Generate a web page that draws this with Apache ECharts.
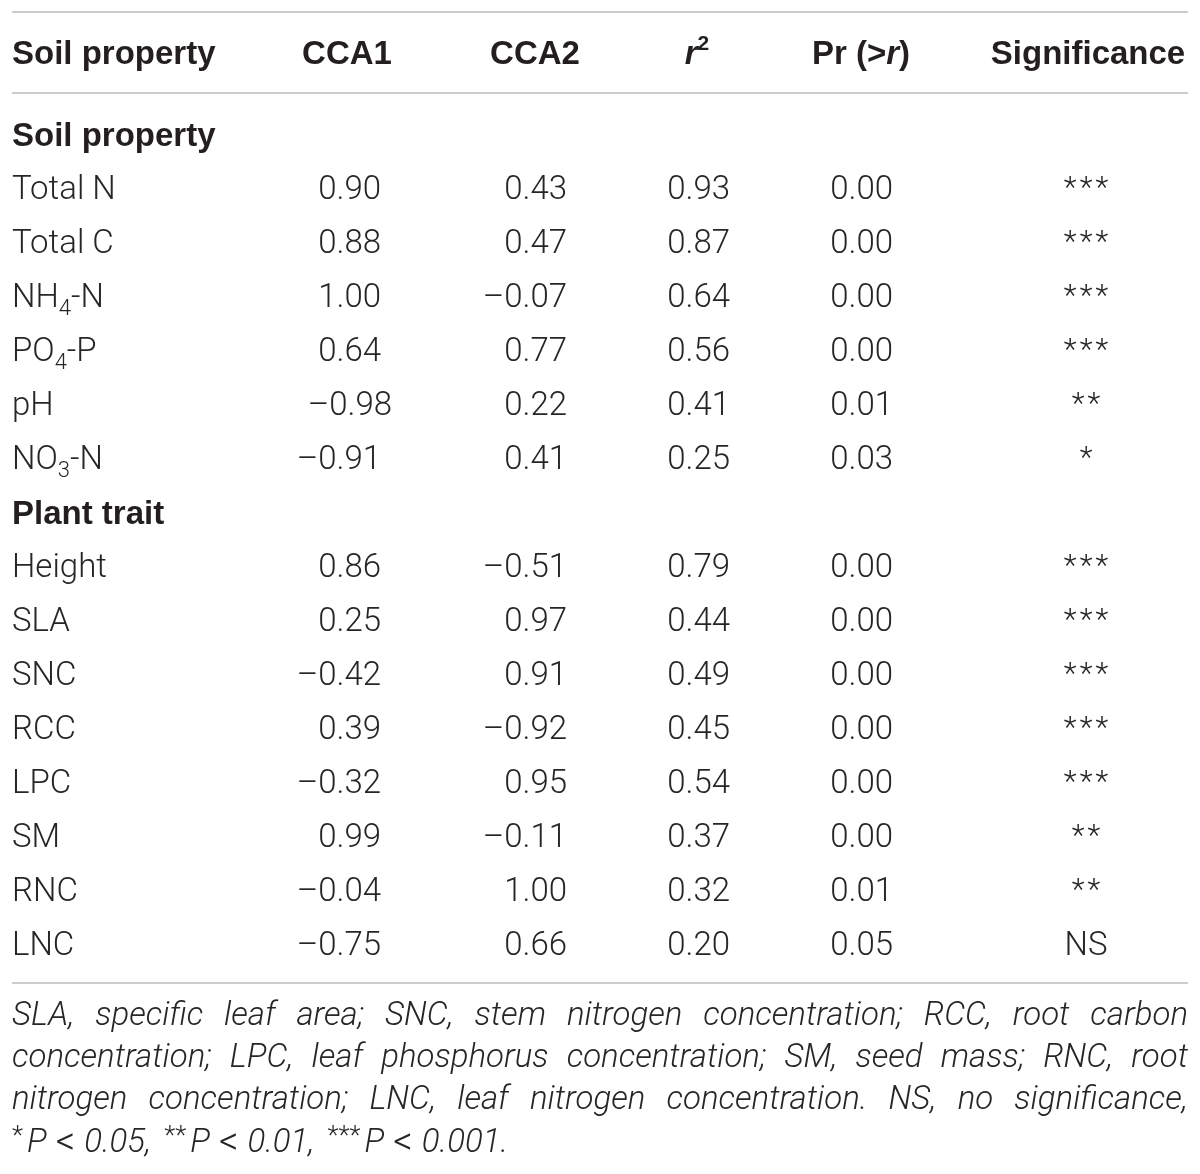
<!DOCTYPE html>
<html>
<head>
<meta charset="utf-8">
<title>CCA fit of soil properties and plant traits</title>
<script src="https://cdn.jsdelivr.net/npm/echarts@6/dist/echarts.min.js"></script>
<style>
  html, body { margin: 0; padding: 0; background: #fff; }
  #main { width: 1200px; height: 1174px; }
</style>
</head>
<body>
<div id="main"></div>
<script>
const columnHeaders = ['Soil property', 'CCA1', 'CCA2', 'r2', 'Pr (>r)', 'Significance'];
const groupTitles = ['Soil property', 'Plant trait'];

const soilNames = ['Total N', 'Total C', 'NH4-N', 'PO4-P', 'pH', 'NO3-N'];
const soilCCA1 = [0.90, 0.88, 1.00, 0.64, -0.98, -0.91];
const soilCCA2 = [0.43, 0.47, -0.07, 0.77, 0.22, 0.41];
const soilR2 = [0.93, 0.87, 0.64, 0.56, 0.41, 0.25];
const soilPr = [0.00, 0.00, 0.00, 0.00, 0.01, 0.03];
const soilSig = ['***', '***', '***', '***', '**', '*'];

const traitNames = ['Height', 'SLA', 'SNC', 'RCC', 'LPC', 'SM', 'RNC', 'LNC'];
const traitCCA1 = [0.86, 0.25, -0.42, 0.39, -0.32, 0.99, -0.04, -0.75];
const traitCCA2 = [-0.51, 0.97, 0.91, -0.92, 0.95, -0.11, 1.00, 0.66];
const traitR2 = [0.79, 0.44, 0.49, 0.45, 0.54, 0.37, 0.32, 0.20];
const traitPr = [0.00, 0.00, 0.00, 0.00, 0.00, 0.00, 0.01, 0.05];
const traitSig = ['***', '***', '***', '***', '***', '**', '**', 'NS'];

const footnoteLines = [
  'SLA, specific leaf area; SNC, stem nitrogen concentration; RCC, root carbon',
  'concentration; LPC, leaf phosphorus concentration; SM, seed mass; RNC, root',
  'nitrogen concentration; LNC, leaf nitrogen concentration. NS, no significance,'
];
const footnoteStars = ['*', '**', '***'];
const footnotePValues = ['0.05,', '0.01,', '0.001.'];

// layout
const LEFT = 12, RIGHT = 1188;
const headerX = [12, 347, 535, 697, 861, 1088];
const valueRight = [381, 567, 730, 893];
const sigCenter = 1086;
const cca1Shift = { pH: 11 };   // the pH value sits a little right in the original
const ruleY = [12, 93, 983];
const headerY = 55;
const footY = [1017, 1059, 1101, 1144];

const BODY = 'Roboto';
const HEAD = 'Liberation Sans';
const INK = '#262626';
const HEAD_INK = '#231f20';
const RULE = '#cccccc';

var rows = [];
function addGroup(title, names, c1, c2, r2, pr, sig) {
  rows.push({ group: true, name: title });
  names.forEach(function (n, i) {
    rows.push({ name: n, vals: [c1[i], c2[i], r2[i], pr[i]], sig: sig[i] });
  });
}
addGroup(groupTitles[0], soilNames, soilCCA1, soilCCA2, soilR2, soilPr, soilSig);
addGroup(groupTitles[1], traitNames, traitCCA1, traitCCA2, traitR2, traitPr, traitSig);

function fmt(v) {
  var s = Math.abs(v).toFixed(2);
  return v < 0 ? '\u2013' + s : s;
}

function labelText(name) {
  var m = /^([A-Z]+)(\d)(-.+)$/.exec(name);
  if (m) return '{n|' + m[1] + '}{s|' + m[2] + '}{n|' + m[3] + '}';
  return '{n|' + name + '}';
}

var labelRich = {
  n: { fontFamily: BODY, fontWeight: 300, fontSize: 33, lineHeight: 42, fill: INK },
  s: { fontFamily: BODY, fontWeight: 300, fontSize: 22, lineHeight: 24, verticalAlign: 'bottom', fill: INK },
  g: { fontFamily: HEAD, fontWeight: 'bold', fontSize: 33, lineHeight: 42, fill: HEAD_INK }
};

function renderRow(params, api) {
  var i = api.value(1);
  var row = rows[i];
  var y = api.coord([0, i])[1];
  var X = function (v) { return api.coord([v, i])[0]; };
  var kids = [];
  kids.push({
    type: 'text', x: X(LEFT), y: y,
    style: {
      text: row.group ? '{g|' + row.name + '}' : labelText(row.name),
      rich: labelRich, align: 'left', verticalAlign: 'middle'
    }
  });
  if (!row.group) {
    row.vals.forEach(function (v, k) {
      var shift = k === 0 ? (cca1Shift[row.name] || 0) : 0;
      kids.push({
        type: 'text', x: X(valueRight[k] + shift), y: y,
        style: {
          text: fmt(v), font: '300 33px ' + BODY, fill: INK,
          align: 'right', verticalAlign: 'middle'
        }
      });
    });
    var stars = row.sig !== 'NS';
    kids.push({
      type: 'text', x: X(sigCenter), y: stars ? y - 2 : y,
      style: {
        text: stars ? row.sig.split('').join('\u200a') : row.sig,
        font: '300 ' + (stars ? 30 : 33) + 'px ' + BODY, fill: INK,
        align: 'center', verticalAlign: 'middle'
      }
    });
  }
  return { type: 'group', children: kids };
}

// rules and header
var graphics = [];
ruleY.forEach(function (ry) {
  graphics.push({
    type: 'line', silent: true,
    shape: { x1: LEFT, y1: ry, x2: RIGHT, y2: ry },
    style: { stroke: RULE, lineWidth: 2 }
  });
});

var headRich = {
  b: { fontFamily: HEAD, fontWeight: 'bold', fontSize: 33, lineHeight: 42, fill: HEAD_INK },
  bi: { fontFamily: HEAD, fontWeight: 'bold', fontStyle: 'italic', fontSize: 33, lineHeight: 42, fill: HEAD_INK },
  sup: { fontFamily: HEAD, fontWeight: 'bold', fontSize: 21, lineHeight: 26, verticalAlign: 'top', fill: HEAD_INK }
};
var headTexts = columnHeaders.map(function (h) {
  if (h === 'r2') return '{bi|r}{sup|2}';
  if (h === 'Pr (>r)') return '{b|Pr (>}{bi|r}{b|)}';
  return '{b|' + h + '}';
});
headTexts.forEach(function (t, k) {
  graphics.push({
    type: 'text', silent: true, x: headerX[k], y: headerY,
    style: { text: t, rich: headRich, align: k === 0 ? 'left' : 'center', verticalAlign: 'middle' }
  });
});

// footnote, justified between the table edges
var FOOT_SIZE = 33;
var FOOT_FONT = 'italic 300 ' + FOOT_SIZE + 'px ' + BODY;
var measureCtx = document.createElement('canvas').getContext('2d');
function textWidth(font, s) {
  measureCtx.font = font;
  return measureCtx.measureText(s).width;
}
footnoteLines.forEach(function (line, li) {
  var words = line.split(' ');
  var widths = words.map(function (w) { return textWidth(FOOT_FONT, w); });
  var total = widths.reduce(function (a, b) { return a + b; }, 0);
  var gap = (RIGHT - LEFT - total) / (words.length - 1);
  var x = LEFT;
  words.forEach(function (w, k) {
    graphics.push({
      type: 'text', silent: true, x: x, y: footY[li],
      style: { text: w, font: FOOT_FONT, fill: INK, align: 'left', verticalAlign: 'middle' }
    });
    x += widths[k] + gap;
  });
});
var lastLine = footnoteStars.map(function (s, k) {
  return '{st|' + s + '}{g1| }{t|P}{g2| }{lt|<}{g3| }{t|' + footnotePValues[k] + '}' +
    (k < footnoteStars.length - 1 ? '{g4| }' : '');
}).join('');
var footItalic = { fontFamily: BODY, fontWeight: 300, fontStyle: 'italic', fontSize: FOOT_SIZE, lineHeight: 40, fill: INK };
graphics.push({
  type: 'text', silent: true, x: LEFT, y: footY[3],
  style: {
    text: lastLine, align: 'left', verticalAlign: 'middle',
    rich: {
      t: footItalic,
      lt: { fontFamily: BODY, fontWeight: 300, fontSize: 38, lineHeight: 40, fill: INK },
      st: { fontFamily: BODY, fontWeight: 300, fontSize: 26, lineHeight: 30, verticalAlign: 'top', fill: INK },
      g1: { width: 4, fontSize: FOOT_SIZE, lineHeight: 40 },
      g2: { width: 9, fontSize: FOOT_SIZE, lineHeight: 40 },
      g3: { width: 9, fontSize: FOOT_SIZE, lineHeight: 40 },
      g4: { width: 13, fontSize: FOOT_SIZE, lineHeight: 40 }
    }
  }
});

var chart = echarts.init(document.getElementById('main'));
chart.setOption({
  animation: false,
  backgroundColor: '#ffffff',
  grid: { left: 0, right: 0, top: 110, height: 864 },
  xAxis: { type: 'value', min: 0, max: 1200, show: false },
  yAxis: { type: 'category', data: rows.map(function (r) { return r.name; }), inverse: true, show: false },
  graphic: graphics,
  series: [{
    type: 'custom',
    silent: true,
    clip: false,
    renderItem: renderRow,
    encode: { x: 0, y: 1 },
    data: rows.map(function (r, i) { return [0, i]; })
  }]
});
</script>
</body>
</html>
